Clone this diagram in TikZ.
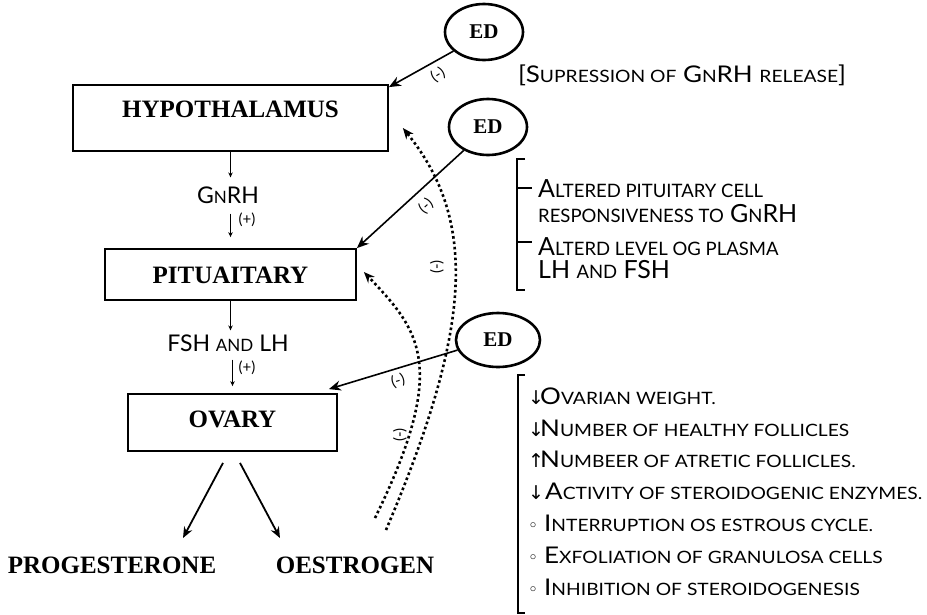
\documentclass[tikz,border=0pt]{standalone}
\usepackage{fontspec}
\setmainfont{Liberation Serif}
\newfontfamily\gill{Lato}
\newfontfamily\gillw[FakeStretch=1.13]{Lato}
\newfontfamily\symf{DejaVu Sans}
\usetikzlibrary{shapes.geometric,arrows.meta}
\makeatletter
\newcommand\sm[1]{{\fontsize{\fpeval{0.74*\f@size}}{\f@baselineskip}\selectfont\MakeUppercase{#1}}}
\makeatother
\newcommand\dn{\makebox[12pt][l]{\symf\fontsize{19}{19}\selectfont ↓}}
\newcommand\up{\makebox[12pt][l]{\symf\fontsize{19}{19}\selectfont ↑}}
\newcommand\bul{\makebox[16pt][l]{\symf\fontsize{17}{17}\selectfont ◦}}

\begin{document}
\begin{tikzpicture}[x=1pt, y=-1pt,
        box/.style={rectangle, draw, line width=1.8pt, inner sep=5pt, font=\fontsize{25}{28}\selectfont\bfseries},
        prod/.style={inner sep=0pt, font=\fontsize{25}{28}\selectfont\bfseries},
        edbox/.style={ellipse, draw, line width=2.6pt, minimum width=78pt, minimum height=56pt, inner sep=0pt, font=\fontsize{21}{22}\selectfont\bfseries},
        lbl/.style={inner sep=0pt, font=\gill\fontsize{23}{24}\selectfont},
        sgn/.style={inner sep=0pt, font=\gill\fontsize{15}{16}\selectfont},
        fx/.style={anchor=base west, inner sep=0pt, font=\gillw\fontsize{23}{26}\selectfont},
        alt/.style={anchor=base west, inner sep=0pt, font=\gill\fontsize{25}{26}\selectfont},
        small/.style={-{Stealth[length=5pt,width=4.5pt]}, line width=1.1pt},
        arr/.style={-{Stealth[length=11pt,width=9pt]}, line width=1.8pt},
        edarr/.style={-{Stealth[length=12pt,width=10pt]}, line width=1.6pt},
        fb/.style={-{Stealth[length=11pt,width=9pt]}, line width=2.6pt, dash pattern=on 2.6pt off 2.8pt}
    ]
    \useasboundingbox (0,0) rectangle (927,614);

    % axis
    \node[box, minimum width=315pt, text height=27pt, text depth=29pt] (hyp) at (230.5,118) {HYPOTHALAMUS};
    \node[box, minimum width=251pt, text height=29pt, text depth=12pt] (pit) at (230.5,274.5) {PITUAITARY};
    \node[box, minimum width=209pt, text height=28pt, text depth=19pt] (ova) at (232.5,422.5) {OVARY};

    \node[lbl] (gnrh) at (228,195) {G\sm{n}RH};
    \node[sgn] (plus1) at (247,220) {(+)};
    \node[lbl] (fsh) at (228,343) {FSH \sm{and} LH};
    \node[sgn] (plus2) at (247,368) {(+)};

    \draw[small, shorten >=9pt] (hyp.south) -- (hyp.south |- gnrh.north);
    \draw[small, shorten <=10pt, shorten >=11pt] (gnrh.south -| hyp.south) -- (pit.north);
    \draw[small, shorten >=4pt] (pit.south) -- (pit.south |- fsh.north);
    \draw[small, shorten <=8pt, shorten >=7pt] (fsh.south -| ova.north) -- (ova.north);

    % products
    \node[prod] (prog) at (112,565) {PROGESTERONE};
    \node[prod] (oes) at (355,565) {OESTROGEN};
    \coordinate (pt) at (183,538);
    \coordinate (et) at (280,538);
    \draw[arr] ([xshift=-9.5pt,yshift=-11pt]ova.south) -- (pt);
    \draw[arr] ([xshift=7.5pt,yshift=-11pt]ova.south) -- (et);

    % endocrine disruptors
    \node[edbox] (ed1) at (484,32) {ED};
    \node[edbox] (ed2) at (488,127) {ED};
    \node[edbox, minimum width=84pt, minimum height=54pt] (ed3) at (498,340) {ED};

    \draw[edarr] (ed1.212) -- ([yshift=-3pt]hyp.north east);
    \draw[edarr] (ed2.224) -- (pit.north east);
    \draw[edarr] (ed3.194) -- ([xshift=-9pt,yshift=4pt]ova.north east);

    % feedback of oestrogen
    \coordinate (e1) at (386,530);
    \coordinate (e2) at (375,518);
    \draw[fb] (e1) .. controls (472,328) and (478,221) .. ([xshift=14pt,yshift=-10pt]hyp.east);
    \draw[fb] (e2) .. controls (450,365) and (419,330) .. ([xshift=7pt,yshift=2.5pt]pit.east);

    \node[sgn, rotate=32] (s1) at (438,75) {(-)};
    \node[sgn, rotate=42] (s2) at (426,206) {(-)};
    \node[sgn, rotate=90] (s3) at (437,267) {(-)};
    \node[sgn, rotate=17] (s4) at (398,381) {(-)};
    \node[sgn, rotate=90] (s5) at (400,435) {(-)};

    % effects
    \node[fx] (sup) at (518,82) {[S\sm{upression of} G\sm{n}RH \sm{release}]};

    \draw[line width=1.8pt] (525,159) -- (517,159) -- (517,290) -- (525,290);
    \draw[line width=1.8pt] (517,188) -- (532,188);
    \draw[line width=1.8pt] (517,242) -- (532,242);
    \node[alt] (alt1) at (538,197) {A\sm{ltered pituitary cell}};
    \node[alt] (alt1b) at (538,222) {\sm{responsiveness to} G\sm{n}RH};
    \node[alt] (alt2) at (538,255) {A\sm{lterd level og plasma}};
    \node[alt] (alt2b) at (538,278) {LH \sm{and} FSH};

    \draw[line width=1.8pt] (525,375) -- (518,375) -- (518,613) -- (525,613);
    \node[fx] (f1) at (528,404) {\dn O\sm{varian weight.}};
    \node[fx] (f2) at (528,436) {\dn N\sm{umber of healthy follicles}};
    \node[fx] (f3) at (528,467.5) {\up N\sm{umbeer of atretic follicles.}};
    \node[fx] (f4) at (528,499.5) {\makebox[17pt][l]{\symf\fontsize{19}{19}\selectfont ↓}A\sm{ctivity of steroidogenic enzymes.}};
    \node[fx] (f5) at (528,531) {\bul I\sm{nterruption os estrous cycle.}};
    \node[fx] (f6) at (528,563) {\bul E\sm{xfoliation of granulosa cells}};
    \node[fx] (f7) at (528,595) {\bul I\sm{nhibition of steroidogenesis}};
\end{tikzpicture}
\end{document}
